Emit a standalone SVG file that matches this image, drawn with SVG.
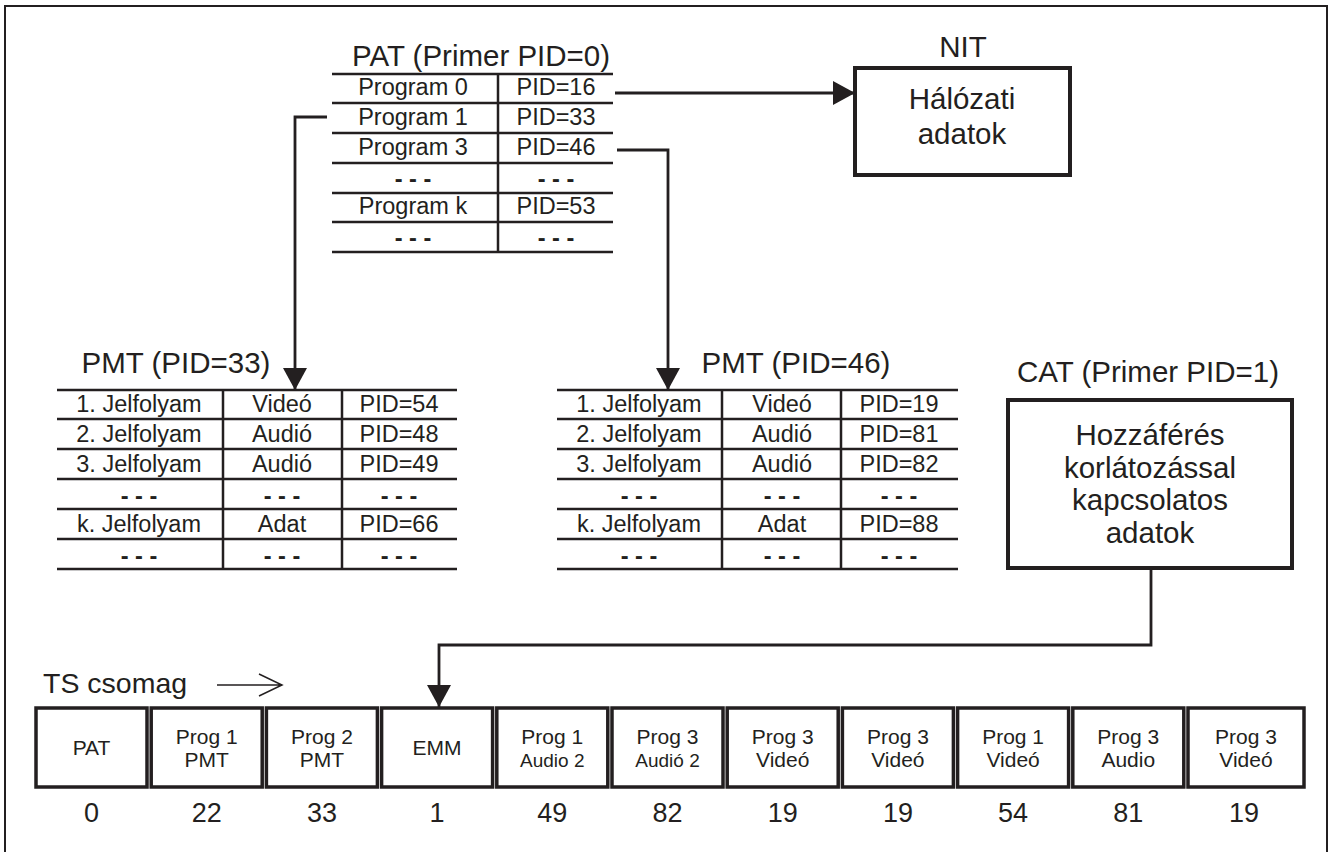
<svg xmlns="http://www.w3.org/2000/svg" width="1329" height="852" viewBox="0 0 1329 852">
  <style>
    text { font-family: "Liberation Sans", Arial, sans-serif; fill: #231f20; text-anchor: middle; }
    .title { font-size: 29.5px; }
    .cell { font-size: 23.5px; }
    .dash { font-size: 23.5px; font-weight: bold; }
    .body { font-size: 29.5px; }
    .ts { font-size: 21px; }
    .ts-small { font-size: 19px; }
    .pid { font-size: 27px; }
    .grid { stroke: #231f20; stroke-width: 2.5; fill: none; }
    .box { stroke: #231f20; stroke-width: 4; fill: #ffffff; }
    .pkt { stroke: #231f20; stroke-width: 3.5; fill: #ffffff; }
    .wire { stroke: #231f20; stroke-width: 2.8; fill: none; }
  </style>
  <defs>
    <marker id="head" viewBox="0 0 22 24" refX="22" refY="12" markerWidth="22" markerHeight="24" markerUnits="userSpaceOnUse" orient="auto">
      <path d="M0,0 L22,12 L0,24 Z" fill="#231f20"/>
    </marker>
  </defs>

  <rect x="0" y="0" width="1329" height="852" fill="#ffffff"/>
  <!-- outer frame -->
  <rect x="5" y="6" width="1322" height="860" fill="none" stroke="#231f20" stroke-width="2"/>

  <!-- PAT table -->
  <g id="pat">
    <text class="title" x="481" y="66">PAT (Primer PID=0)</text>
    <path class="grid" d="M332,74 H613 M332,103 H613 M332,133 H613 M332,163 H613 M332,193 H613 M332,222 H613 M332,252 H613 M498,74 V252"/>
    <text class="cell" x="413" y="95">Program 0</text>
    <text class="cell" x="556" y="95">PID=16</text>
    <text class="cell" x="413" y="125">Program 1</text>
    <text class="cell" x="556" y="125">PID=33</text>
    <text class="cell" x="413" y="155">Program 3</text>
    <text class="cell" x="556" y="155">PID=46</text>
    <text class="dash" x="413" y="187">- - -</text>
    <text class="dash" x="556" y="187">- - -</text>
    <text class="cell" x="413" y="214">Program k</text>
    <text class="cell" x="556" y="214">PID=53</text>
    <text class="dash" x="413" y="246">- - -</text>
    <text class="dash" x="556" y="246">- - -</text>
  </g>

  <!-- NIT -->
  <g id="nit">
    <text class="title" x="963" y="57">NIT</text>
    <rect class="box" x="855" y="68" width="215" height="107"/>
    <text class="body" x="962" y="109">Hálózati</text>
    <text class="body" x="962" y="144">adatok</text>
  </g>

  <!-- PMT for PID 33 -->
  <g id="pmt33">
    <text class="title" x="176" y="373">PMT (PID=33)</text>
    <path class="grid" d="M57,390 H457 M57,419 H457 M57,449 H457 M57,479 H457 M57,509 H457 M57,539 H457 M57,569 H457 M223,390 V569 M342,390 V569"/>
    <text class="cell" x="139" y="412">1. Jelfolyam</text>
    <text class="cell" x="282" y="412">Videó</text>
    <text class="cell" x="399" y="412">PID=54</text>
    <text class="cell" x="139" y="442">2. Jelfolyam</text>
    <text class="cell" x="282" y="442">Audió</text>
    <text class="cell" x="399" y="442">PID=48</text>
    <text class="cell" x="139" y="472">3. Jelfolyam</text>
    <text class="cell" x="282" y="472">Audió</text>
    <text class="cell" x="399" y="472">PID=49</text>
    <text class="dash" x="139" y="504">- - -</text>
    <text class="dash" x="282" y="504">- - -</text>
    <text class="dash" x="399" y="504">- - -</text>
    <text class="cell" x="139" y="532">k. Jelfolyam</text>
    <text class="cell" x="282" y="532">Adat</text>
    <text class="cell" x="399" y="532">PID=66</text>
    <text class="dash" x="139" y="564">- - -</text>
    <text class="dash" x="282" y="564">- - -</text>
    <text class="dash" x="399" y="564">- - -</text>
  </g>

  <!-- PMT for PID 46 -->
  <g id="pmt46">
    <text class="title" x="796" y="373">PMT (PID=46)</text>
    <path class="grid" d="M557,390 H958 M557,419 H958 M557,449 H958 M557,479 H958 M557,509 H958 M557,539 H958 M557,569 H958 M722,390 V569 M841,390 V569"/>
    <text class="cell" x="639" y="412">1. Jelfolyam</text>
    <text class="cell" x="782" y="412">Videó</text>
    <text class="cell" x="899" y="412">PID=19</text>
    <text class="cell" x="639" y="442">2. Jelfolyam</text>
    <text class="cell" x="782" y="442">Audió</text>
    <text class="cell" x="899" y="442">PID=81</text>
    <text class="cell" x="639" y="472">3. Jelfolyam</text>
    <text class="cell" x="782" y="472">Audió</text>
    <text class="cell" x="899" y="472">PID=82</text>
    <text class="dash" x="639" y="504">- - -</text>
    <text class="dash" x="782" y="504">- - -</text>
    <text class="dash" x="899" y="504">- - -</text>
    <text class="cell" x="639" y="532">k. Jelfolyam</text>
    <text class="cell" x="782" y="532">Adat</text>
    <text class="cell" x="899" y="532">PID=88</text>
    <text class="dash" x="639" y="564">- - -</text>
    <text class="dash" x="782" y="564">- - -</text>
    <text class="dash" x="899" y="564">- - -</text>
  </g>

  <!-- CAT -->
  <g id="cat">
    <text class="title" x="1148" y="382">CAT (Primer PID=1)</text>
    <rect class="box" x="1008" y="400" width="284" height="168"/>
    <text class="body" x="1150" y="445">Hozzáférés</text>
    <text class="body" x="1150" y="478">korlátozással</text>
    <text class="body" x="1150" y="510">kapcsolatos</text>
    <text class="body" x="1150" y="543">adatok</text>
  </g>

  <!-- transport stream label -->
  <g id="ts-label">
    <text x="43" y="693" style="font-size:28.5px;text-anchor:start">TS csomag</text>
    <path d="M217,685 H281 M259,674 L282,685 L259,696" fill="none" stroke="#231f20" stroke-width="1.5"/>
  </g>

  <!-- transport stream packets -->
  <g id="ts-packets">
    <g id="pkt0"><rect class="pkt" x="36" y="708" width="111" height="79"/><text class="ts" x="91.5" y="755">PAT</text><text class="pid" x="91.5" y="822">0</text></g>
    <g id="pkt1"><rect class="pkt" x="151.2" y="708" width="111" height="79"/><text class="ts" x="206.7" y="744">Prog 1</text><text class="ts" x="206.7" y="767">PMT</text><text class="pid" x="206.7" y="822">22</text></g>
    <g id="pkt2"><rect class="pkt" x="266.4" y="708" width="111" height="79"/><text class="ts" x="321.9" y="744">Prog 2</text><text class="ts" x="321.9" y="767">PMT</text><text class="pid" x="321.9" y="822">33</text></g>
    <g id="pkt3"><rect class="pkt" x="381.6" y="708" width="111" height="79"/><text class="ts" x="437.1" y="755">EMM</text><text class="pid" x="437.1" y="822">1</text></g>
    <g id="pkt4"><rect class="pkt" x="496.8" y="708" width="111" height="79"/><text class="ts" x="552.3" y="744">Prog 1</text><text class="ts-small" x="552.3" y="767">Audio 2</text><text class="pid" x="552.3" y="822">49</text></g>
    <g id="pkt5"><rect class="pkt" x="612" y="708" width="111" height="79"/><text class="ts" x="667.5" y="744">Prog 3</text><text class="ts-small" x="667.5" y="767">Audió 2</text><text class="pid" x="667.5" y="822">82</text></g>
    <g id="pkt6"><rect class="pkt" x="727.2" y="708" width="111" height="79"/><text class="ts" x="782.7" y="744">Prog 3</text><text class="ts" x="782.7" y="767">Videó</text><text class="pid" x="782.7" y="822">19</text></g>
    <g id="pkt7"><rect class="pkt" x="842.4" y="708" width="111" height="79"/><text class="ts" x="897.9" y="744">Prog 3</text><text class="ts" x="897.9" y="767">Videó</text><text class="pid" x="897.9" y="822">19</text></g>
    <g id="pkt8"><rect class="pkt" x="957.6" y="708" width="111" height="79"/><text class="ts" x="1013.1" y="744">Prog 1</text><text class="ts" x="1013.1" y="767">Videó</text><text class="pid" x="1013.1" y="822">54</text></g>
    <g id="pkt9"><rect class="pkt" x="1072.8" y="708" width="111" height="79"/><text class="ts" x="1128.3" y="744">Prog 3</text><text class="ts" x="1128.3" y="767">Audio</text><text class="pid" x="1128.3" y="822">81</text></g>
    <g id="pkt10"><rect class="pkt" x="1188" y="708" width="116" height="79"/><text class="ts" x="1246" y="744">Prog 3</text><text class="ts" x="1246" y="767">Videó</text><text class="pid" x="1244" y="822">19</text></g>
  </g>

  <!-- connectors -->
  <g id="connectors">
    <path class="wire" d="M615,93 H855" marker-end="url(#head)"/>
    <path class="wire" d="M327,117 H295 V390" marker-end="url(#head)"/>
    <path class="wire" d="M617,150 H668 V390" marker-end="url(#head)"/>
    <path class="wire" d="M1151,568 V645 H439 V707" marker-end="url(#head)"/>
  </g>
</svg>
